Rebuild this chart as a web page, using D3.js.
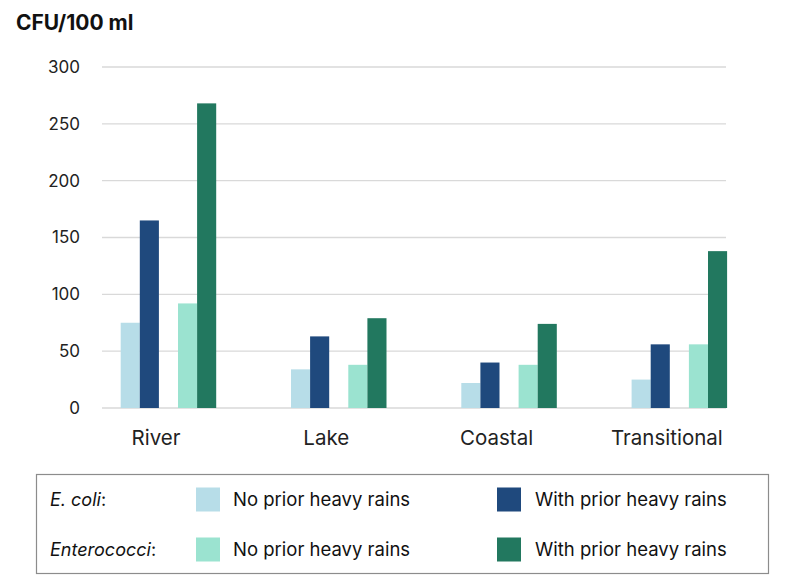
<!DOCTYPE html>
<html>
<head>
<meta charset="utf-8">
<script src="https://cdn.jsdelivr.net/npm/d3@7/dist/d3.min.js"></script>
<style>
  html, body { margin: 0; padding: 0; background: #fff; }
  svg { display: block; font-family: Inter, "Open Sans", sans-serif; }
</style>
</head>
<body>
<svg id="chart" width="800" height="581"></svg>
<script>
const categories = ["River", "Lake", "Coastal", "Transitional"];
const ecoliNo = [75, 34, 22, 25];
const ecoliWith = [165, 63, 40, 56];
const enteroNo = [92, 38, 38, 56];
const enteroWith = [268, 79, 74, 138];
const yTicks = [0, 50, 100, 150, 200, 250, 300];
const seriesKeys = ["ecoliNo", "ecoliWith", "gap", "enteroNo", "enteroWith"];
const seriesColors = { ecoliNo: "#b7dde8", ecoliWith: "#1f497d", enteroNo: "#9be3d0", enteroWith: "#22785f" };
const legendRows = [
  { label: "E. coli", keys: ["ecoliNo", "ecoliWith"] },
  { label: "Enterococci", keys: ["enteroNo", "enteroWith"] }
];
const legendTexts = ["No prior heavy rains", "With prior heavy rains"];

const values = { ecoliNo, ecoliWith, enteroNo, enteroWith };
const svg = d3.select("#chart");

const plotLeft = 102, plotRight = 726, plotTop = 67, plotBottom = 408;
const y = d3.scaleLinear().domain([0, 300]).range([plotBottom, plotTop]);
const x = d3.scaleBand().domain(categories).range([plotLeft, plotLeft + 4 * 170.3]);
const xi = d3.scaleBand().domain(seriesKeys).range([18.7, 18.7 + 95.5]);

// gridlines
svg.append("g").selectAll("line").data(yTicks).join("line")
  .attr("x1", plotLeft).attr("x2", plotRight)
  .attr("y1", d => y(d)).attr("y2", d => y(d))
  .attr("stroke", "#d9d9d9").attr("stroke-width", 1.3);

// y tick labels
svg.append("g").selectAll("text").data(yTicks).join("text")
  .attr("x", 80).attr("y", d => y(d)).attr("dy", "0.35em")
  .attr("text-anchor", "end").attr("font-size", 17).attr("fill", "#222")
  .text(d => d);

// title
svg.append("text").attr("x", 16).attr("y", 30)
  .attr("font-size", 21).attr("font-weight", "bold").attr("fill", "#111")
  .text("CFU/100 ml");

// bars
const groups = svg.append("g").selectAll("g").data(categories).join("g")
  .attr("transform", c => `translate(${x(c)},0)`);
groups.selectAll("rect")
  .data((c, i) => seriesKeys.filter(k => k !== "gap").map(k => ({ k, v: values[k][i] })))
  .join("rect")
  .attr("x", d => xi(d.k)).attr("width", xi.bandwidth())
  .attr("y", d => y(d.v)).attr("height", d => y(0) - y(d.v))
  .attr("fill", d => seriesColors[d.k]);

// category labels
svg.append("g").selectAll("text").data(categories).join("text")
  .attr("x", c => x(c) + 54).attr("y", 445)
  .attr("text-anchor", "middle").attr("font-size", 20.5).attr("fill", "#222")
  .text(c => c);

// legend
const lg = svg.append("g");
lg.append("rect").attr("x", 36.5).attr("y", 474.5).attr("width", 732).attr("height", 99)
  .attr("fill", "none").attr("stroke", "#8c8c8c").attr("stroke-width", 1.2);
const rowY = [499.5, 549.5];
const swX = [196, 497];
const txX = [233, 535];
legendRows.forEach((r, ri) => {
  const t = lg.append("text").attr("x", 50).attr("y", rowY[ri]).attr("dy", "0.35em")
    .attr("font-size", 18).attr("fill", "#111");
  t.append("tspan").attr("font-style", "italic").text(r.label);
  t.append("tspan").text(":");
  r.keys.forEach((k, ki) => {
    lg.append("rect").attr("x", swX[ki]).attr("y", rowY[ri] - 12).attr("width", 24).attr("height", 24)
      .attr("fill", seriesColors[k]);
    lg.append("text").attr("x", txX[ki]).attr("y", rowY[ri]).attr("dy", "0.35em")
      .attr("font-size", 18.5).attr("fill", "#111").text(legendTexts[ki]);
  });
});
</script>
</body>
</html>
